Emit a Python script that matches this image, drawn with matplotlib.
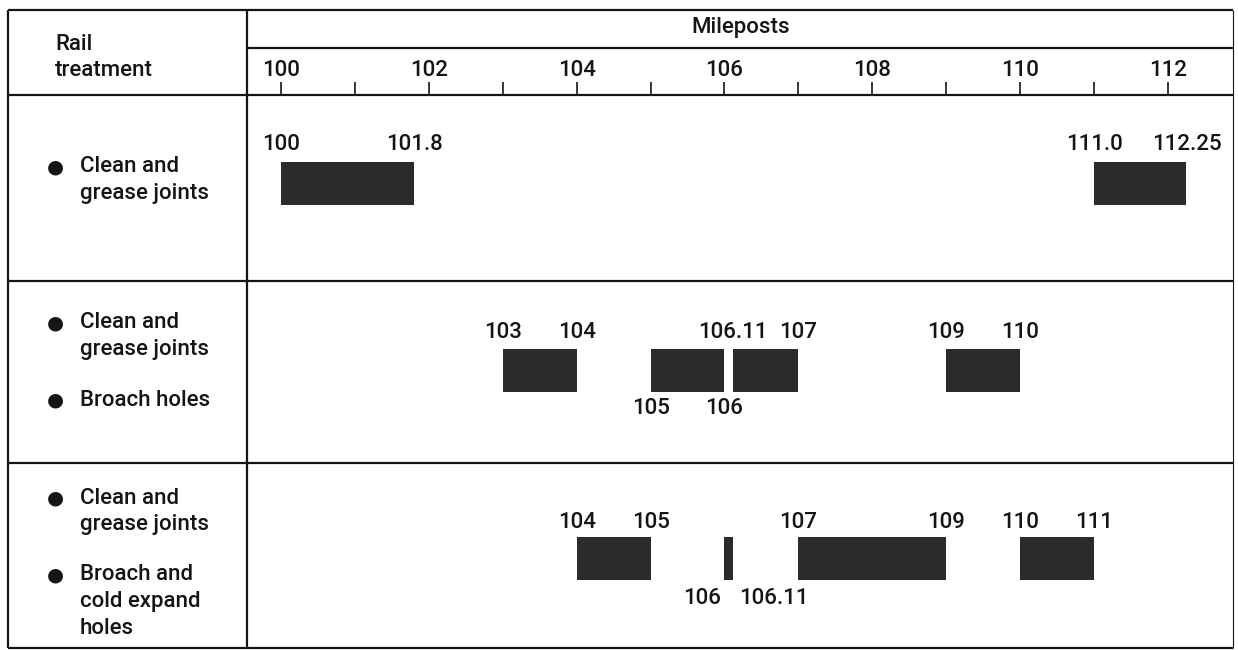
import matplotlib
matplotlib.use("Agg")
import matplotlib.pyplot as plt
from matplotlib.lines import Line2D

W, H = 1238, 650
FONT = "Roboto"
WEIGHT = "medium"
INK = "#151515"
BAR = "#2b2b2b"

# Milepost scale
mileposts = list(range(100, 113))
labelled_posts = list(range(100, 113, 2))

# Rail treatments per row (left column)
row_treatments = [
    ["Clean and\ngrease joints"],
    ["Clean and\ngrease joints", "Broach holes"],
    ["Clean and\ngrease joints", "Broach and\ncold expand\nholes"],
]

# Treated stretches per row: (start milepost, end milepost) as printed
row1_segments = [("100", "101.8"), ("111.0", "112.25")]
row2_segments = [("103", "104"), ("105", "106"), ("106.11", "107"), ("109", "110")]
row3_segments = [("104", "105"), ("106", "106.11"), ("107", "109"), ("110", "111")]

# Where the milepost labels of each stretch sit relative to the bar
row1_label_side = ["above", "above"]
row2_label_side = ["above", "below", "above", "above"]
row3_label_side = ["above", "below", "above", "above"]

segments = [row1_segments, row2_segments, row3_segments]
label_sides = [row1_label_side, row2_label_side, row3_label_side]

# ---- layout (pixels) ----
LEFT, RIGHT, TOP, BOTTOM = 8, 1233, 10, 648
COL_X = 247
HEADER_Y = 48
AXIS_Y = 95
ROW_LINES = [281, 463]
X100, X112 = 281, 1168
ppm = (X112 - X100) / 12.0

bar_centers = [183, 370, 558]
bar_height = 43
above_y = [145, 332, 522]
below_y = [None, 409, 599]
text_rows = [[167], [323, 400], [498, 575]]
LINE_STEP = 26.5

fig = plt.figure(figsize=(W / 100, H / 100), dpi=100)
fig.patch.set_facecolor("white")
ax = fig.add_axes([0, 0, 1, 1])
ax.set_xlim(100 - X100 / ppm, 100 + (W - X100) / ppm)
ax.set_ylim(H, 0)
ax.axis("off")


def fx(x):
    return x / W


def fy(y):
    return 1 - y / H


def hline(y, x0, x1, lw=1.6):
    fig.add_artist(Line2D([fx(x0), fx(x1)], [fy(y), fy(y)], color=INK, lw=lw,
                          transform=fig.transFigure, solid_capstyle="butt"))


def vline(x, y0, y1, lw=1.6):
    fig.add_artist(Line2D([fx(x), fx(x)], [fy(y0), fy(y1)], color=INK, lw=lw,
                          transform=fig.transFigure, solid_capstyle="butt"))


# Table frame
hline(TOP, LEFT, RIGHT)
hline(BOTTOM, LEFT, RIGHT)
vline(LEFT, TOP, BOTTOM)
vline(RIGHT, TOP, BOTTOM, lw=0.8)
vline(COL_X, TOP, BOTTOM)
hline(HEADER_Y, COL_X, RIGHT)
hline(AXIS_Y, LEFT, RIGHT)
for y in ROW_LINES:
    hline(y, LEFT, RIGHT)

# Header texts
txt = dict(family=FONT, weight=WEIGHT, fontsize=16, color=INK)
fig.text(fx(55), fy(45), "Rail", va="center", ha="left", **txt)
fig.text(fx(55), fy(70), "treatment", va="center", ha="left", **txt)
fig.text(fx(741), fy(28), "Mileposts", va="center", ha="center", **txt)

# Milepost ticks and labels
ax.vlines(mileposts, 82, AXIS_Y, color=INK, lw=1.2)
for m in labelled_posts:
    ax.text(m, 70, str(m), ha="center", va="center", **txt)

# Left column: bulleted treatments, one centred line at a time
for items, ys in zip(row_treatments, text_rows):
    for item, y in zip(items, ys):
        fig.text(fx(55), fy(y), "\u25cf", ha="center", va="center",
                 family="DejaVu Sans", fontsize=14, color=INK)
        for k, line in enumerate(item.split("\n")):
            fig.text(fx(80), fy(y + k * LINE_STEP), line, ha="left",
                     va="center", **txt)

# Treated stretches
for r, (segs, sides) in enumerate(zip(segments, label_sides)):
    starts = [float(s) for s, _ in segs]
    ends = [float(e) for _, e in segs]
    widths = [e - s for s, e in zip(starts, ends)]
    ax.barh([bar_centers[r]] * len(segs), widths, left=starts,
            height=bar_height, color=BAR, edgecolor="none")
    for (s_lab, e_lab), s, e, side in zip(segs, starts, ends, sides):
        y = above_y[r] if side == "above" else below_y[r]
        if e - s < 0.5:
            ax.annotate(s_lab, (s, y), xytext=(-3, 0), textcoords="offset pixels",
                        ha="right", va="center", **txt)
            ax.annotate(e_lab, (e, y), xytext=(6, 0), textcoords="offset pixels",
                        ha="left", va="center", **txt)
        else:
            ax.text(s, y, s_lab, ha="center", va="center", **txt)
            ax.text(e, y, e_lab, ha="center", va="center", **txt)

fig.savefig("out.png", dpi=100, facecolor="white")
